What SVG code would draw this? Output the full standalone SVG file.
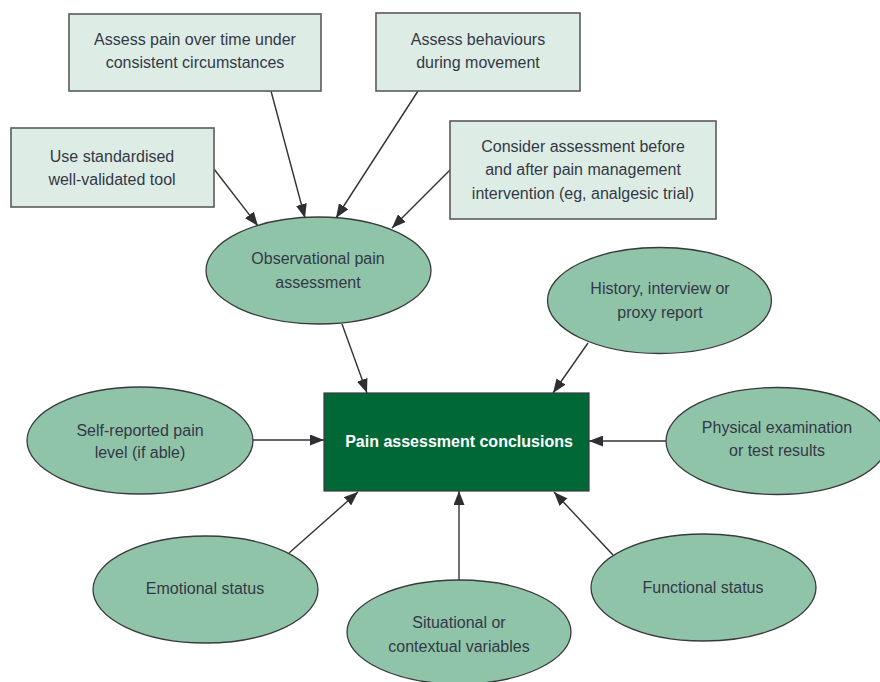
<svg xmlns="http://www.w3.org/2000/svg" width="880" height="682" viewBox="0 0 880 682">
<style>
.box{fill:#ddede5;stroke:#5a5a5a;stroke-width:1.6}
.ell{fill:#8fc4a9;stroke:#3a3a3a;stroke-width:1.3}
.main{fill:#006837;stroke:#3a3a3a;stroke-width:1.2}
text{font-family:"Liberation Sans",Arial,sans-serif;font-size:16px;fill:#343846;text-anchor:middle}
.mt{fill:#ffffff;font-weight:bold}
.con line{stroke:#333;stroke-width:1.4;marker-end:url(#ah)}
</style>
<defs>
<marker id="ah" markerUnits="userSpaceOnUse" markerWidth="14" markerHeight="11" refX="14" refY="5.5" orient="auto">
<path d="M0,0 L14,5.5 L0,11 z" fill="#2e2e33"/>
</marker>
</defs>
<rect width="880" height="682" fill="#ffffff"/>
<g class="con">
<line x1="214" y1="169" x2="258" y2="226"/>
<line x1="271" y1="91" x2="305" y2="218"/>
<line x1="418" y1="91" x2="336" y2="218"/>
<line x1="450" y1="170" x2="392" y2="228"/>
<line x1="342" y1="324" x2="367" y2="393"/>
<line x1="588" y1="343" x2="553" y2="393"/>
<line x1="253" y1="440" x2="324" y2="440"/>
<line x1="666" y1="441" x2="589" y2="441"/>
<line x1="289" y1="553" x2="358" y2="492"/>
<line x1="459" y1="580" x2="459" y2="491"/>
<line x1="613" y1="555" x2="554" y2="492"/>
</g>
<g id="n-time"><rect class="box" x="69" y="14" width="252" height="77"/><text x="195" y="45">Assess pain over time under</text><text x="195" y="68">consistent circumstances</text></g>
<g id="n-behaviours"><rect class="box" x="376" y="13" width="204" height="78"/><text x="478" y="45">Assess behaviours</text><text x="478" y="68">during movement</text></g>
<g id="n-tool"><rect class="box" x="11" y="128" width="203" height="79"/><text x="112" y="162">Use standardised</text><text x="112" y="185">well-validated tool</text></g>
<g id="n-consider"><rect class="box" x="450" y="121" width="266" height="98"/><text x="583" y="152">Consider assessment before</text><text x="583" y="175">and after pain management</text><text x="583" y="199">intervention (eg, analgesic trial)</text></g>
<g id="n-observational"><ellipse class="ell" cx="318.5" cy="270.5" rx="112.5" ry="53.5"/><text x="318" y="264">Observational pain</text><text x="318" y="288">assessment</text></g>
<g id="n-history"><ellipse class="ell" cx="659.5" cy="300.5" rx="112" ry="53"/><text x="660" y="294">History, interview or</text><text x="660" y="318">proxy report</text></g>
<g id="n-main"><rect class="main" x="324" y="393" width="265" height="98"/><text class="mt" x="459" y="447">Pain assessment conclusions</text></g>
<g id="n-self"><ellipse class="ell" cx="140" cy="440.5" rx="113" ry="53.5"/><text x="140" y="436">Self-reported pain</text><text x="140" y="458">level (if able)</text></g>
<g id="n-physical"><ellipse class="ell" cx="777" cy="441" rx="111" ry="53.5"/><text x="777" y="433">Physical examination</text><text x="777" y="456">or test results</text></g>
<g id="n-emotional"><ellipse class="ell" cx="205.5" cy="589.5" rx="112.5" ry="53.5"/><text x="205" y="594">Emotional status</text></g>
<g id="n-situational"><ellipse class="ell" cx="459" cy="632" rx="112" ry="52"/><text x="459" y="628">Situational or</text><text x="459" y="652">contextual variables</text></g>
<g id="n-functional"><ellipse class="ell" cx="703.5" cy="587.5" rx="112.5" ry="53.5"/><text x="703" y="593">Functional status</text></g>
</svg>
